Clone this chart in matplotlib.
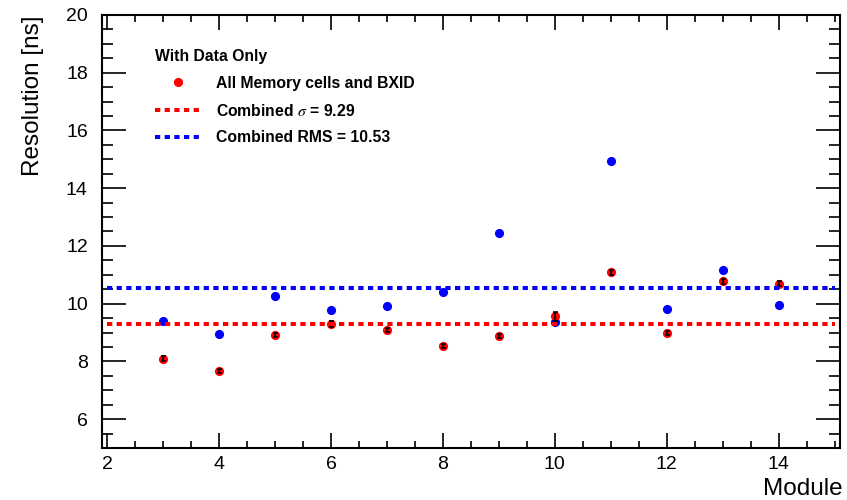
import numpy as np
import matplotlib.pyplot as plt
from matplotlib.ticker import MultipleLocator

plt.rcParams['font.family'] = ['Liberation Sans', 'DejaVu Sans']
plt.rcParams['mathtext.fontset'] = 'stix'

# --- data ---
modules = [3, 4, 5, 6, 7, 8, 9, 10, 11, 12, 13, 14]
res_all = [8.10, 7.66, 8.91, 9.29, 9.08, 8.53, 8.88, 9.56, 11.09, 8.98, 10.77, 10.69]
res_err = [0.07, 0.06, 0.06, 0.10, 0.07, 0.06, 0.06, 0.15, 0.08, 0.06, 0.08, 0.09]
res_rms = [9.40, 8.95, 10.26, 9.78, 9.92, 10.40, 12.45, 9.37, 14.94, 9.82, 11.16, 9.94]
sigma_comb = 9.29
rms_comb = 10.53
line_x = [2, 15]

fig = plt.figure(figsize=(8.47, 5.0), dpi=100)
ax = fig.add_axes([0.120, 0.104, 0.872, 0.866])

ax.plot(modules, res_rms, 'o', color='#0000ff', ms=6.6, mec='none', zorder=3)
ax.plot(modules, res_all, 'o', color='#ff0000', ms=6.6, mec='none', zorder=4,
        label='All Memory cells and BXID')
ax.errorbar(modules, res_all, yerr=res_err, fmt='none', ecolor='black',
            elinewidth=1.2, capsize=1.8, capthick=1.2, zorder=4.5)

ax.plot(line_x, [sigma_comb] * 2, color='#ff0000', lw=2.9, dashes=(1.3, 1.1),
        solid_capstyle='butt', dash_capstyle='butt', zorder=5,
        label=r'Combined $\sigma$ = %.2f' % sigma_comb)
ax.plot(line_x, [rms_comb] * 2, color='#0000ff', lw=2.9, dashes=(1.3, 1.1),
        solid_capstyle='butt', dash_capstyle='butt', zorder=5,
        label='Combined RMS = %.2f' % rms_comb)

ax.set_xlim(1.9, 15.1)
ax.set_ylim(5, 20)
ax.xaxis.set_major_locator(MultipleLocator(2))
ax.xaxis.set_minor_locator(MultipleLocator(0.5))
ax.yaxis.set_major_locator(MultipleLocator(2))
ax.yaxis.set_minor_locator(MultipleLocator(0.5))
ax.set_yticks(np.arange(6, 21, 2))

ax.tick_params(axis='both', which='both', direction='in', top=True, right=True,
               labelsize=14, width=1.2, colors='black')
ax.tick_params(axis='y', which='major', length=17, pad=10)
ax.tick_params(axis='y', which='minor', length=8)
ax.tick_params(axis='x', which='major', length=11, pad=6)
ax.tick_params(axis='x', which='minor', length=5)
for s in ax.spines.values():
    s.set_linewidth(1.5)

ax.set_ylabel('Resolution [ns]', fontsize=17.5, loc='top')
ax.yaxis.set_label_coords(-0.078, 1.0)
ax.set_xlabel('Module', fontsize=17.5, loc='right')
ax.xaxis.set_label_coords(1.003, -0.07)

leg = ax.legend(loc='upper left', bbox_to_anchor=(155 / 847, 1 - 49 / 500),
                bbox_transform=fig.transFigure, frameon=False,
                title='With Data Only', alignment='left',
                prop={'size': 11.3, 'weight': 'bold'},
                title_fontproperties={'size': 11.3, 'weight': 'bold'},
                handlelength=2.9, handletextpad=1.0, labelspacing=0.75,
                borderpad=0, borderaxespad=0)

fig.savefig('out.png', dpi=100)
